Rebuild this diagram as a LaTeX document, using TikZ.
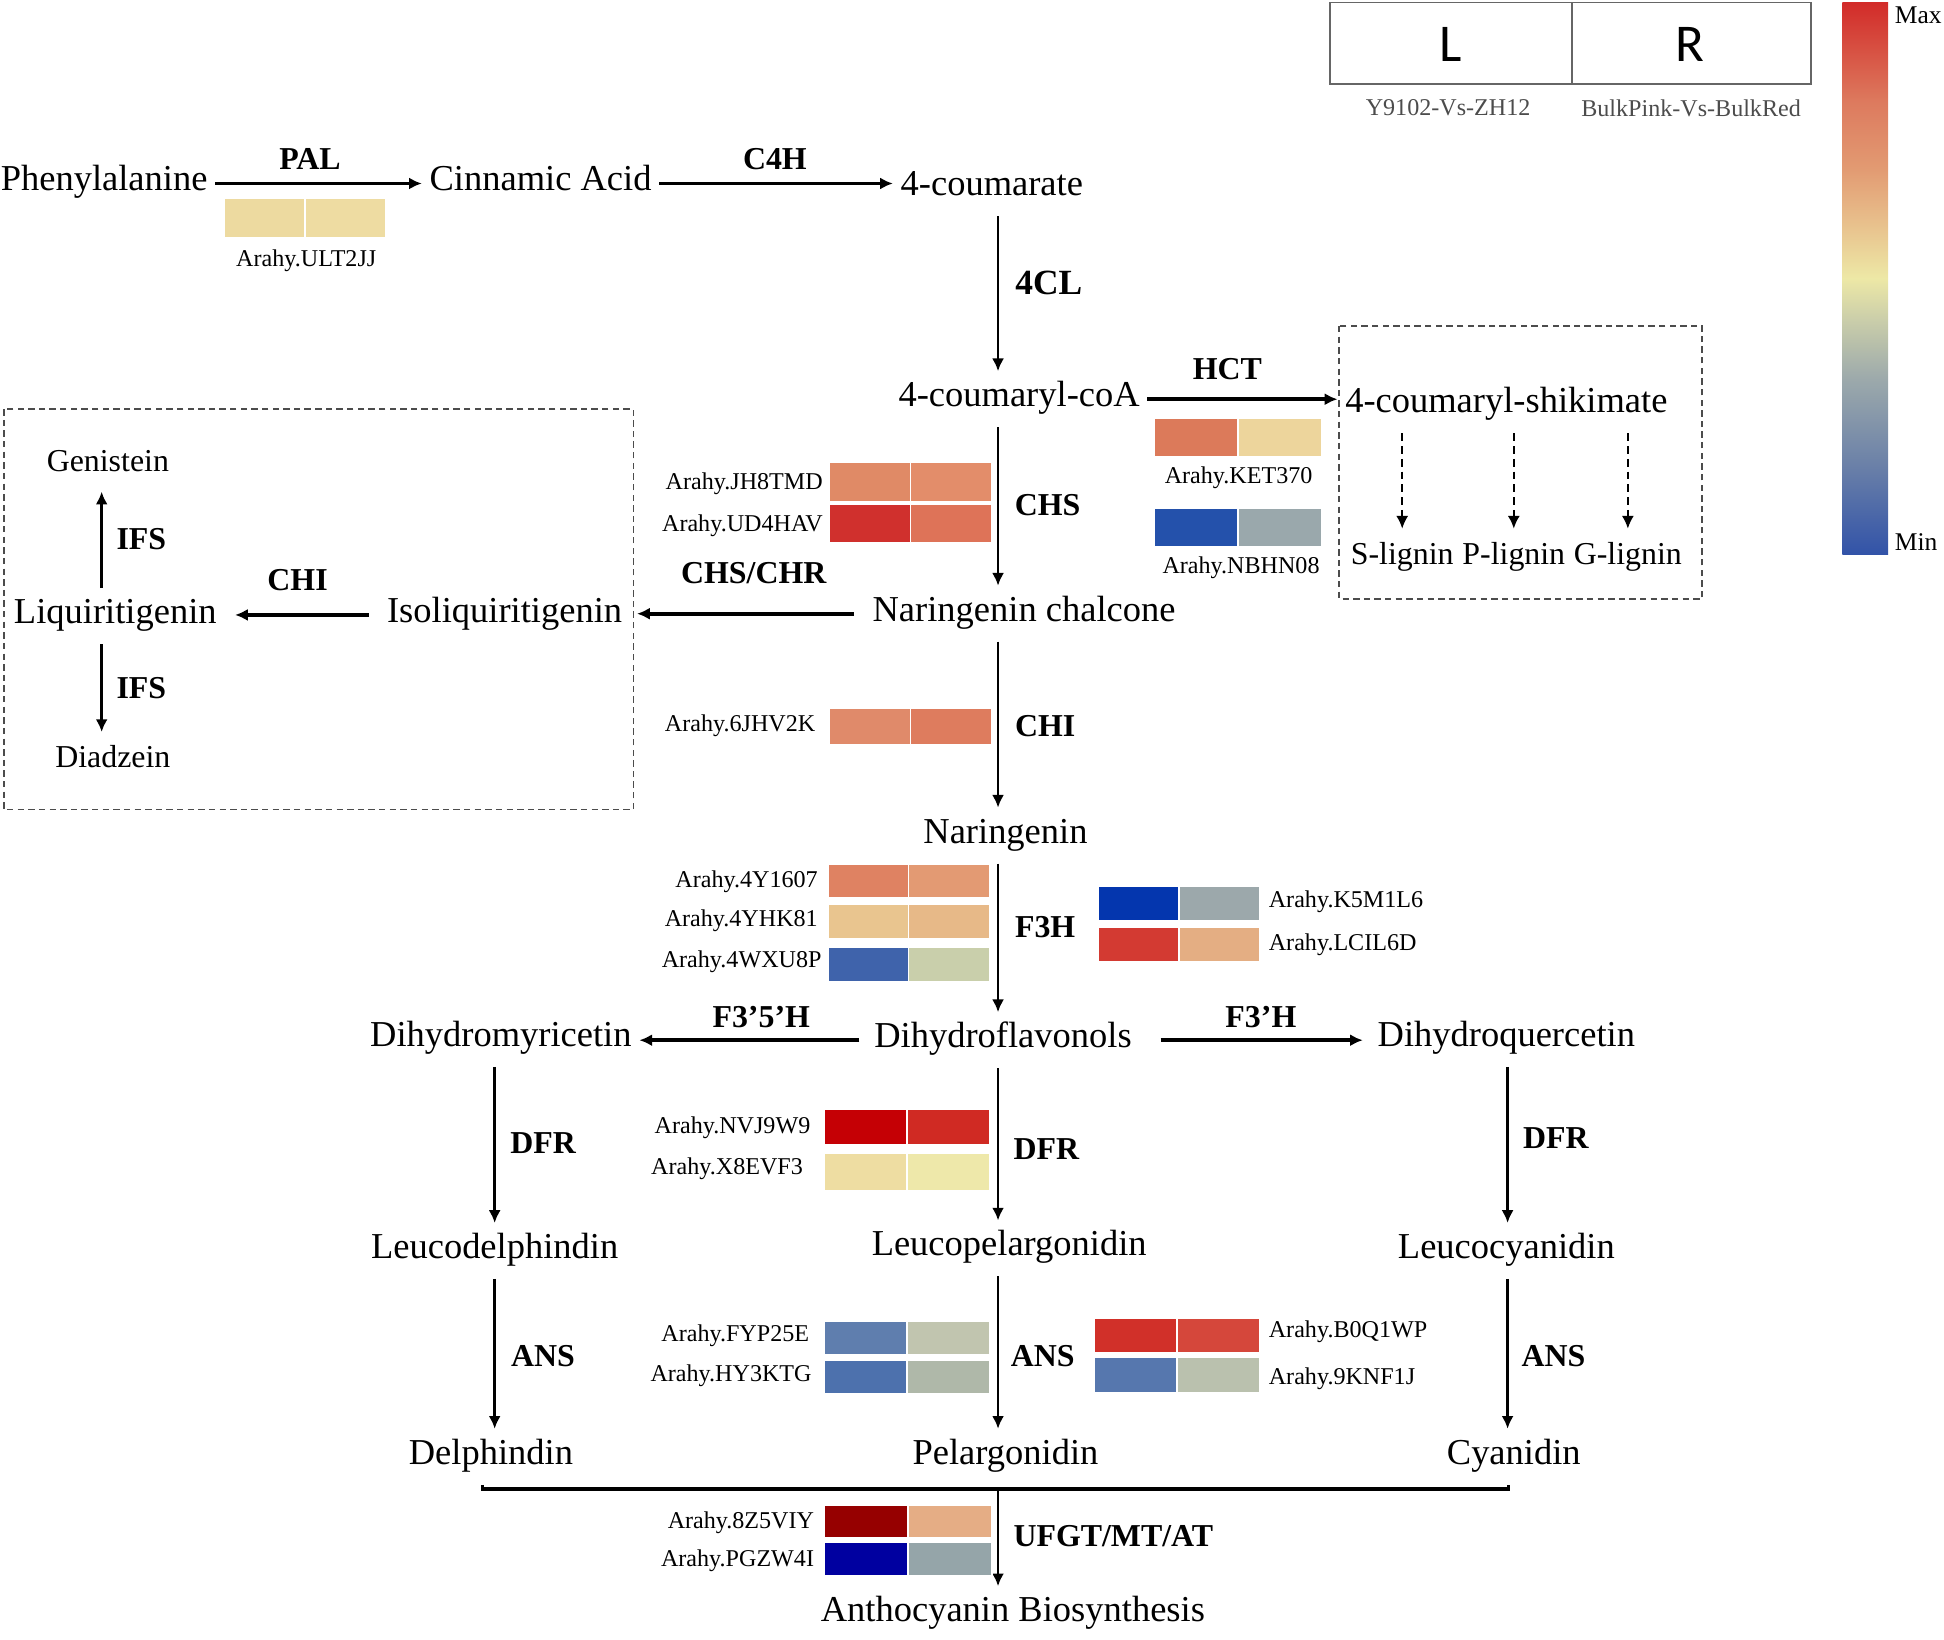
\documentclass[tikz,border=0pt]{standalone}
\usepackage{fontspec}
\setmainfont{Liberation Serif}
\newfontfamily\legfont{Carlito}
\usetikzlibrary{arrows.meta}
\definecolor{hb0}{HTML}{3253A8}\definecolor{hb1}{HTML}{6A80A8}\definecolor{hb2}{HTML}{9DAAAB}
\definecolor{hb3}{HTML}{C8CCAA}\definecolor{hb4}{HTML}{EDE8A6}\definecolor{hb5}{HTML}{E8C08C}
\definecolor{hb6}{HTML}{E29A72}\definecolor{hb7}{HTML}{DD7A5E}\definecolor{hb8}{HTML}{D22B29}
\pgfdeclareverticalshading{heatbar}{100bp}{color(0bp)=(hb0);color(25bp)=(hb0);color(33bp)=(hb1);color(41bp)=(hb2);color(46bp)=(hb3);color(50bp)=(hb4);color(55bp)=(hb5);color(60bp)=(hb6);color(66bp)=(hb7);color(75bp)=(hb8);color(100bp)=(hb8)}
% two cells of the heat map: x, top y, width, height, left colour, right colour
\newcommand\hmpair[6]{%
  \definecolor{hmL}{HTML}{#5}\definecolor{hmR}{HTML}{#6}%
  \filldraw[fill=hmL,draw=white,line width=0.4pt] (#1,#2) rectangle ++(#3/2,#4);
  \filldraw[fill=hmR,draw=white,line width=0.4pt] (#1+#3/2,#2) rectangle ++(#3/2,#4);}

\begin{document}
\begin{tikzpicture}[x=0.35pt,y=-0.35pt,>={Latex[length=3.6pt,width=3.4pt]},
  cmp/.style={font=\fontsize{10.3}{12}\selectfont,inner xsep=2pt,inner ysep=3pt,text height=6.8pt,text depth=2.6pt},
  sml/.style={cmp,font=\fontsize{9}{11}\selectfont},
  enz/.style={font=\fontsize{9}{10}\selectfont\bfseries,inner sep=1pt},
  gene/.style={font=\fontsize{6.8}{8}\selectfont,inner sep=1pt},
  hx/.style={->,line width=1.1pt},
  vx/.style={->,line width=0.75pt},
  dx/.style={->,line width=0.6pt,dash pattern=on 2.2pt off 1.4pt},
  dbox/.style={draw=black!70,line width=0.5pt,dash pattern=on 1.8pt off 1.2pt}]
\useasboundingbox (0,0) rectangle (1568,1322);
\coordinate (colL) at (399,0); \coordinate (colM) at (805,0); \coordinate (colR) at (1216,0); \coordinate (ifs) at (82,0);

% legend
\draw[black!60,line width=0.5pt] (1073,2) rectangle (1461,68); \draw[black!60,line width=0.5pt] (1268,2) -- (1268,68);
\node[font=\legfont\fontsize{15}{16}\selectfont] (legL) at (1170,36) {L};
\node[font=\legfont\fontsize{15}{16}\selectfont] (legR) at (1363,36) {R};
\node[gene,text=black!70] (cmpL) at (1168,87) {Y9102-Vs-ZH12};
\node[gene,text=black!70] (cmpR) at (1364,87) {BulkPink-Vs-BulkRed};
\shade[shading=heatbar] (1486,2) rectangle (1523,447);
\node[gene,font=\fontsize{7.2}{8}\selectfont,anchor=west] (mx) at (1525,12) {Max};
\node[gene,font=\fontsize{7.2}{8}\selectfont,anchor=west] (mn) at (1525,437) {Min};

% dashed boxes
\draw[dbox] (3,330) rectangle (511,653);
\draw[dbox] (1080,263) rectangle (1373,483);

% compounds
\node[cmp] (phe) at (84,148) {Phenylalanine};
\node[cmp] (cin) at (436,148) {Cinnamic Acid};
\node[cmp] (cum) at (800,152) {4-coumarate};
\node[cmp] (coa) at (822,322) {4-coumaryl-coA};
\node[cmp] (shk) at (1215,327) {4-coumaryl-shikimate};
\node[sml] (slig) at (1131,449) {S-lignin};
\node[sml] (plig) at (1221,449) {P-lignin};
\node[sml] (glig) at (1313,449) {G-lignin};
\node[cmp] (nch) at (826,495) {Naringenin chalcone};
\node[cmp] (iso) at (407,496) {Isoliquiritigenin};
\node[cmp] (liq) at (93,497) {Liquiritigenin};
\node[sml] (gen) at (87,374) {Genistein};
\node[sml] (dia) at (91,613) {Diadzein};
\node[cmp] (nar) at (811,674) {Naringenin};
\node[cmp] (dhf) at (809,839) {Dihydroflavonols};
\node[cmp] (dhm) at (404,838) {Dihydromyricetin};
\node[cmp] (dhq) at (1215,838) {Dihydroquercetin};
\node[cmp] (lde) at (399,1009) {Leucodelphindin};
\node[cmp] (lpe) at (814,1007) {Leucopelargonidin};
\node[cmp] (lcy) at (1215,1009) {Leucocyanidin};
\node[cmp] (del) at (396,1175) {Delphindin};
\node[cmp] (pel) at (811,1175) {Pelargonidin};
\node[cmp] (cya) at (1221,1175) {Cyanidin};
\node[cmp] (ant) at (817,1302) {Anthocyanin Biosynthesis};

% enzymes
\node[enz] (pal) at (250,128) {PAL}; \node[enz] (c4h) at (625,128) {C4H};
\node[enz,font=\fontsize{10}{11}\selectfont\bfseries] (fcl) at (846,228) {4CL}; \node[enz] (hct) at (990,298) {HCT};
\node[enz] (chs) at (845,407) {CHS}; \node[enz] (chr) at (608,462) {CHS/CHR};
\node[enz] (chiL) at (240,468) {CHI}; \node[enz] (ifsU) at (114,435) {IFS}; \node[enz] (ifsD) at (114,555) {IFS};
\node[enz] (chi) at (843,586) {CHI}; \node[enz] (fh) at (843,748) {F3H};
\node[enz] (ffh) at (614,820) {F3’5’H}; \node[enz] (fth) at (1017,820) {F3’H};
\node[enz] (dfrL) at (438,922) {DFR}; \node[enz] (dfrM) at (844,927) {DFR}; \node[enz] (dfrR) at (1255,918) {DFR};
\node[enz] (ansL) at (438,1094) {ANS}; \node[enz] (ansM) at (841,1094) {ANS}; \node[enz] (ansR) at (1253,1094) {ANS};
\node[enz] (ufgt) at (898,1239) {UFGT/MT/AT};

% arrows
\draw[hx] (phe) -- (cin);
\draw[hx] (cin) -- (cin -| cum.west);
\draw[vx] (cum.south -| colM) -- (coa.north -| colM);
\draw[hx] (coa) -- (coa -| shk.west);
\draw[dx] (shk.south -| slig) -- (slig.north); \draw[dx] (shk.south -| plig) -- (plig.north); \draw[dx] (shk.south -| glig) -- (glig.north);
\draw[vx] (coa.south -| colM) -- (nch.north -| colM);
\draw[hx,shorten <=3pt,shorten >=2pt] (nch) -- (nch -| iso.east);
\draw[hx,shorten <=3pt,shorten >=3pt] (iso) -- (iso -| liq.east);
\draw[vx] (liq.north -| ifs) -- (gen.south -| ifs);
\draw[vx] (liq.south -| ifs) -- (dia.north -| ifs);
\draw[vx] (nch.south -| colM) -- (nar.north -| colM);
\draw[vx] (nar.south -| colM) -- (dhf.north -| colM);
\draw[hx,shorten <=2pt] (dhf) -- (dhf -| dhm.east);
\draw[hx,shorten <=6pt,shorten >=2pt] (dhf) -- (dhf -| dhq.west);
\draw[vx] (dhm.south -| colL) -- (lde.north -| colL);
\draw[vx] (dhf.south -| colM) -- (lpe.north -| colM);
\draw[vx] (dhq.south -| colR) -- (lcy.north -| colR);
\draw[vx] (lde.south -| colL) -- (del.north -| colL);
\draw[vx] (lpe.south -| colM) -- (pel.north -| colM);
\draw[vx] (lcy.south -| colR) -- (cya.north -| colR);
\coordinate (bl) at (389,1201); \coordinate (br) at (1217,1201);
\draw[line width=0.9pt] (del.south -| bl) -- (bl) -- (br) -- (cya.south -| br);
\draw[vx] (bl -| colM) -- (ant.north -| colM);

% heat map
\hmpair{181}{160}{130}{32}{EDDAA0}{EEDCA2}
\hmpair{669}{373}{131}{32}{E08A66}{E38D6A}
\hmpair{669}{407}{131}{31}{D0302D}{DE7358}
\hmpair{931}{337}{135}{31}{DC7A5A}{EDD59C}
\hmpair{931}{410}{135}{31}{2451AB}{9AA8AC}
\hmpair{669}{571}{131}{30}{E08A6A}{DE7C5E}
\hmpair{668}{697}{130}{27}{DF8262}{E39A73}
\hmpair{668}{729}{130}{28}{E9C58F}{E7B988}
\hmpair{668}{764}{130}{28}{3F63AB}{C9CFAB}
\hmpair{886}{715}{130}{28}{0436AE}{9CA8AB}
\hmpair{886}{748}{130}{28}{D33A32}{E4AE83}
\hmpair{665}{895}{133}{28}{C50005}{D02A23}
\hmpair{665}{930}{133}{30}{EEDDA2}{EEE8AA}
\hmpair{665}{1066}{133}{27}{5F7EAE}{C1C5AF}
\hmpair{665}{1097}{133}{27}{4D71AD}{AFB8A9}
\hmpair{883}{1063}{133}{28}{D13029}{D5473B}
\hmpair{883}{1095}{133}{28}{5677AE}{BAC1AE}
\hmpair{665}{1214}{135}{26}{960000}{E5AD85}
\hmpair{665}{1244}{135}{27}{0000A0}{95A5A9}

% gene names
\node[gene] (gULT) at (247,210) {Arahy.ULT2JJ};
\node[gene] (gKET) at (999,385) {Arahy.KET370}; \node[gene] (gNBH) at (1001,458) {Arahy.NBHN08};
\node[gene,anchor=east] (gJH8) at (667,390) {Arahy.JH8TMD}; \node[gene,anchor=east] (gUD4) at (667,424) {Arahy.UD4HAV};
\node[gene,anchor=east] (g6JH) at (661,585) {Arahy.6JHV2K};
\node[gene,anchor=east] (g4Y1) at (663,711) {Arahy.4Y1607}; \node[gene,anchor=east] (g4YH) at (663,743) {Arahy.4YHK81};
\node[gene,anchor=east] (g4WX) at (666,776) {Arahy.4WXU8P};
\node[gene,anchor=west] (gK5M) at (1020,727) {Arahy.K5M1L6}; \node[gene,anchor=west] (gLCI) at (1020,762) {Arahy.LCIL6D};
\node[gene,anchor=east] (gNVJ) at (657,910) {Arahy.NVJ9W9}; \node[gene,anchor=east] (gX8E) at (651,943) {Arahy.X8EVF3};
\node[gene,anchor=east] (gFYP) at (656,1077) {Arahy.FYP25E}; \node[gene,anchor=east] (gHY3) at (658,1110) {Arahy.HY3KTG};
\node[gene,anchor=west] (gB0Q) at (1020,1074) {Arahy.B0Q1WP}; \node[gene,anchor=west] (g9KN) at (1020,1112) {Arahy.9KNF1J};
\node[gene,anchor=east] (g8Z5) at (660,1228) {Arahy.8Z5VIY}; \node[gene,anchor=east] (gPGZ) at (660,1259) {Arahy.PGZW4I};
\end{tikzpicture}
\end{document}
